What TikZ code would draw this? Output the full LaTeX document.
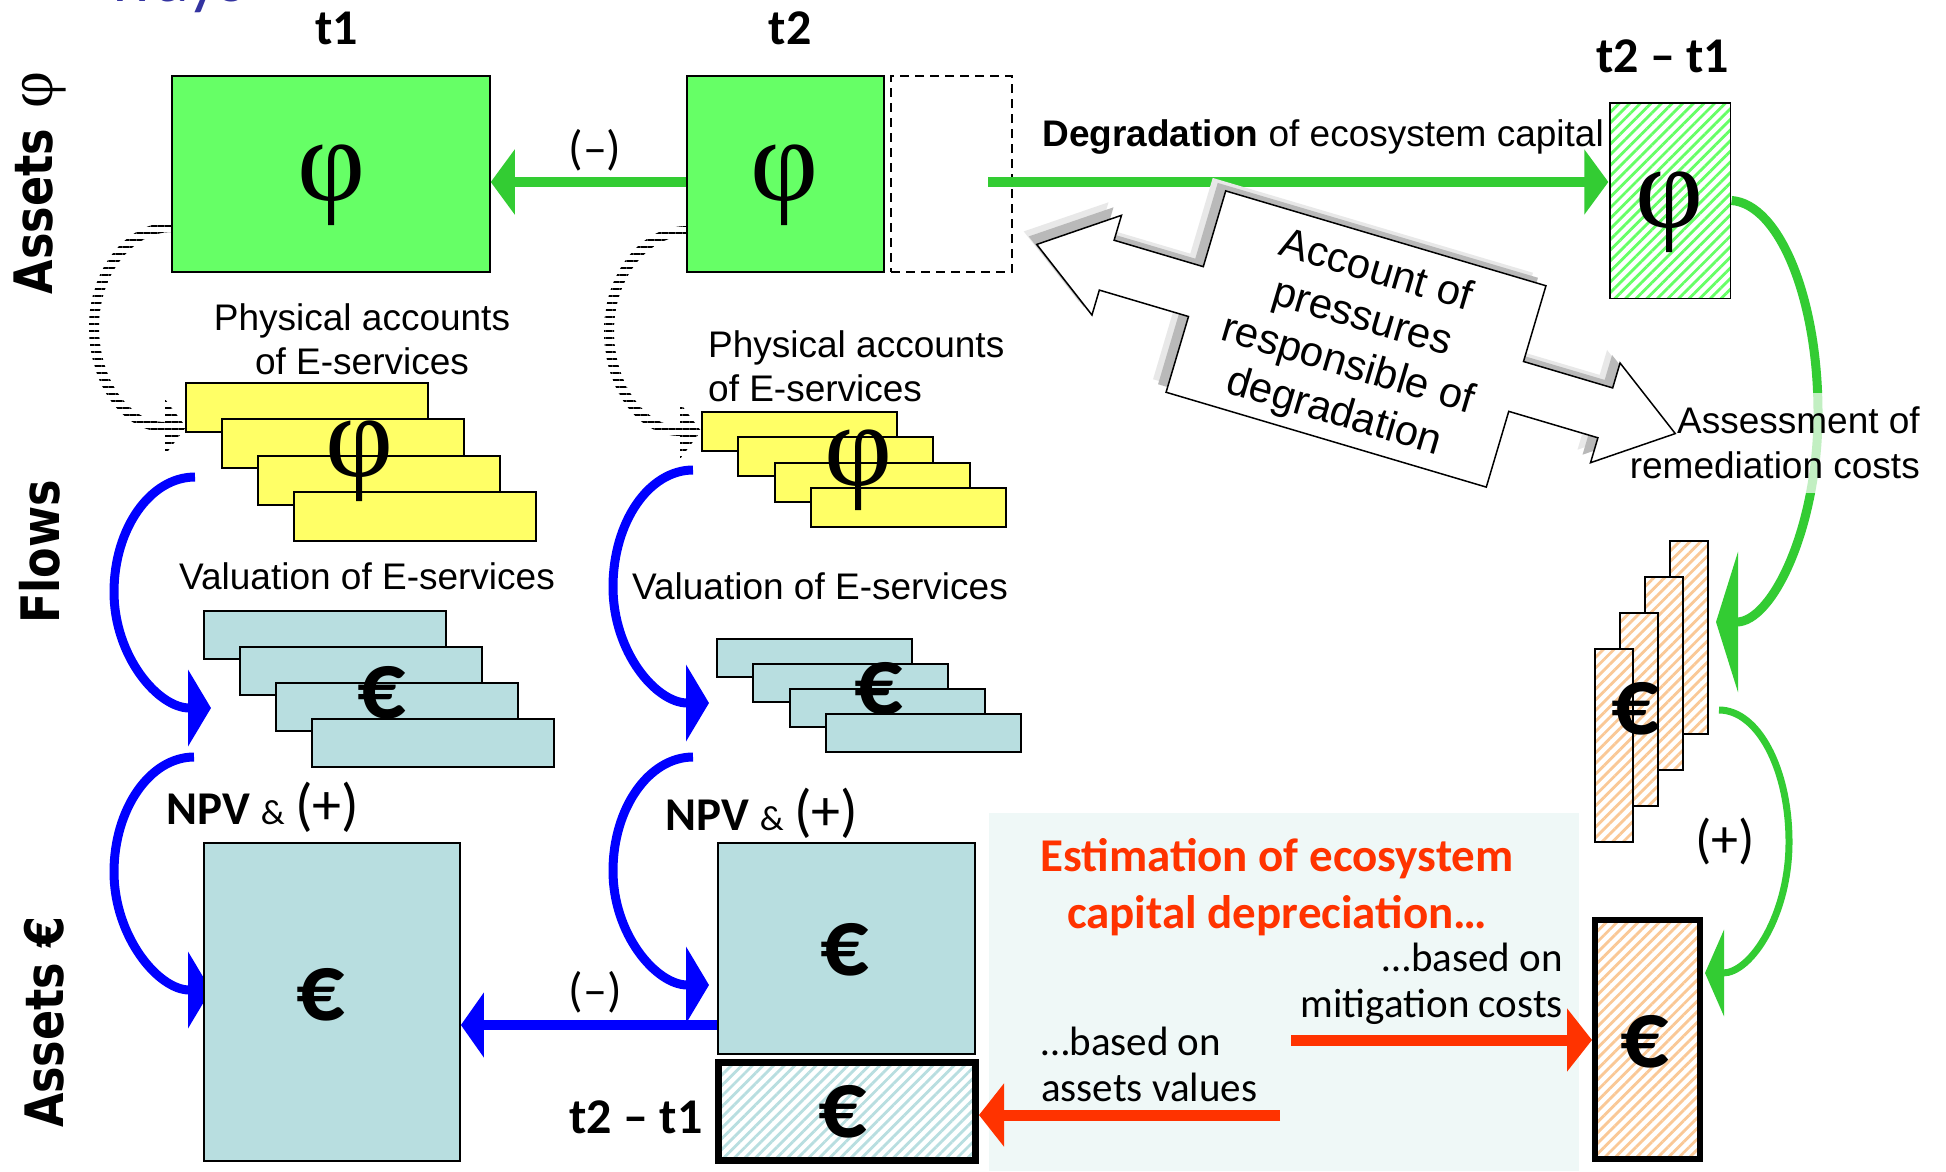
\documentclass[tikz,border=0pt]{standalone}
\usepackage{fontspec}
\usepackage{graphicx}
\setmainfont{Liberation Sans}
\newfontfamily\calfont{Carlito}
\newfontfamily\verfont{DejaVu Sans}
\newfontfamily\serfont{Liberation Serif}
\usetikzlibrary{arrows.meta,patterns.meta}
\definecolor{boxgreen}{RGB}{102,255,102}
\definecolor{arrgreen}{RGB}{51,204,51}
\definecolor{yel}{RGB}{255,255,102}
\definecolor{lblue}{RGB}{184,222,224}
\definecolor{arrblue}{RGB}{0,0,255}
\definecolor{arrred}{RGB}{255,51,0}
\definecolor{orangeh}{RGB}{250,200,150}
\definecolor{panelc}{RGB}{239,248,247}
\definecolor{titleblue}{RGB}{51,51,160}
\newcommand\fz[2]{\fontsize{#1pt}{#2pt}\selectfont}
\begin{document}
\begin{tikzpicture}[x=1pt,y=-1pt,
  txt/.style={inner sep=0pt},
  arialt/.style={txt, font=\fz{37}{44}},
  calt/.style={txt, font=\calfont\fz{48}{56}},
  calbt/.style={txt, font=\calfont\bfseries\fz{50}{56}},
  phit/.style={txt, font=\serfont\fz{118}{118}},
  eurot/.style={txt, font=\calfont\bfseries\fz{96}{96}},
  sidet/.style={txt, rotate=90, font=\verfont\bfseries\fz{53}{60}},
  gbox/.style={draw=black, fill=boxgreen, line width=1.5pt, inner sep=0pt},
  ybox/.style={draw=black, fill=yel, line width=1.8pt, inner sep=0pt},
  bbox/.style={draw=black, fill=lblue, line width=1.8pt, inner sep=0pt},
  hatchg/.style={draw=black, line width=1.5pt, inner sep=0pt, preaction={fill=white},
     pattern={Lines[angle=45,distance=7.5pt,line width=2.8pt]}, pattern color=boxgreen},
  hatcho/.style={draw=black, inner sep=0pt, preaction={fill=white},
     pattern={Lines[angle=45,distance=7.5pt,line width=2.8pt]}, pattern color=orangeh},
  hatchb/.style={draw=black, inner sep=0pt, preaction={fill=white},
     pattern={Lines[angle=45,distance=7.5pt,line width=2.8pt]}, pattern color=lblue},
  combfill/.style={pattern={Lines[angle=0,distance=7pt,line width=2pt]}, pattern color=black},
  garrow/.style={draw=arrgreen, line width=9.5pt, -{Triangle[length=24pt,width=64pt]}},
  barrow/.style={draw=arrblue, line width=10pt, -{Triangle[length=23pt,width=64pt]}},
  rarrow/.style={draw=arrred, line width=11pt, -{Triangle[length=25pt,width=62pt]}},
  bcurve/.style={draw=arrblue, line width=9pt, -{Triangle[length=23pt,width=76pt]}},
  gcurveA/.style={draw=arrgreen, line width=9pt, -{Triangle[length=22pt,width=140pt]}},
  gcurveB/.style={draw=arrgreen, line width=7pt, -{Triangle[length=19pt,width=86pt]}},
]
\useasboundingbox (0,0) rectangle (1946,1171);
\fill[white] (0,0) rectangle (1946,1171);

% panel
\node[fill=panelc, inner sep=0pt, minimum width=590pt, minimum height=358pt] (panel) at (1284,992) {};

% cut title
\node[anchor=base west, inner sep=0pt, text=titleblue, font=\calfont\fz{70}{70}] (ways) at (106,1) {ways};

% column labels
\node[calbt] (lt1) at (336.5,28.6) {t1};
\node[calbt] (lt2) at (790,28.6) {t2};
\node[calbt] (ldt) at (1662.5,56) {t2 – t1};
\node[calbt] (ldtb) at (636,1117.5) {t2 – t1};

% side labels
\node[sidet] (sa) at (40,183) {\scalebox{0.84}[1]{Assets}\hspace{20pt}{\serfont\mdseries\fz{64}{64}φ}};
\node[sidet] (sf) at (40,552) {\scalebox{0.84}[1]{Flows}};
\node[sidet] (se) at (44,1022) {\scalebox{0.84}[1]{Assets €}};

% physical assets boxes
\node[gbox, minimum width=318pt, minimum height=196pt] (phi1) at (331,174) {};
\node[phit] (phi1t) at (332,185) {φ};
\node[gbox, minimum width=197pt, minimum height=196pt] (phi2) at (785.5,174) {};
\node[phit] (phi2t) at (785,185) {φ};
\node[draw=black, line width=1.5pt, dash pattern=on 9pt off 6pt, minimum width=121pt, minimum height=196pt, inner sep=0pt] (dash) at (951.5,174) {};
\node[hatchg, minimum width=120.5pt, minimum height=195.5pt] (gh) at (1670,200.5) {};
\node[phit] (ght) at (1670,212) {φ};

% green straight arrows
\coordinate (gy) at (0,182);
\coordinate (degst) at (988,182);
\draw[garrow] (phi2.west |- gy) -- (phi1.east |- gy);
\node[calt] (minus1) at (595,150) {(–)};
\draw[garrow] (degst) -- (gh.west |- gy);
\node[txt, anchor=east, font=\fz{37}{44}] (deg) at (1604,137.5) {\textbf{Degradation} of ecosystem capital};

% comb arcs
\fill[combfill] (172,222) .. controls (126,222) and (89,269) .. (89,327)
   .. controls (89,385) and (123,432) .. (165,432) -- (165,455) -- (186,427) -- (165,399) -- (165,422)
   .. controls (129,422) and (99,379) .. (99,327) .. controls (99,275) and (132,232) .. (172,232) -- cycle;
\begin{scope}[shift={(515,4)}]
\fill[combfill] (172,222) .. controls (126,222) and (89,269) .. (89,327)
   .. controls (89,385) and (123,432) .. (165,432) -- (165,455) -- (186,427) -- (165,399) -- (165,422)
   .. controls (129,422) and (99,379) .. (99,327) .. controls (99,275) and (132,232) .. (172,232) -- cycle;
\end{scope}

% physical accounts text
\node[arialt, align=center] (pa1) at (362,339) {Physical accounts\\of E-services};
\node[arialt, align=left, anchor=west] (pa2) at (708,366) {Physical accounts\\of E-services};

% yellow stacks
\foreach \i/\n in {0/a,1/b,2/c,3/d}{
  \node[ybox, minimum width=242pt, minimum height=49pt] (ya\n) at ({307+36*\i},{407.5+36.3*\i}) {};
}
\node[phit] (yat) at (360,461) {φ};
\foreach \i/\n in {0/a,1/b,2/c,3/d}{
  \node[ybox, minimum width=195pt, minimum height=39pt] (yb\n) at ({799.5+36.3*\i},{431.5+25.3*\i}) {};
}
\node[phit] (ybt) at (859,470) {φ};

% valuation text
\node[arialt] (va1) at (367,576) {Valuation of E-services};
\node[arialt] (va2) at (820,586) {Valuation of E-services};

% blue stacks
\foreach \i/\n in {0/a,1/b,2/c,3/d}{
  \node[bbox, minimum width=242pt, minimum height=48pt] (ba\n) at ({325+36*\i},{635+36*\i}) {};
}
\node[eurot] (bat) at (382,693) {€};
\foreach \i/\n in {0/a,1/b,2/c,3/d}{
  \node[bbox, minimum width=195pt, minimum height=38pt] (bb\n) at ({814.5+36.3*\i},{658+25*\i}) {};
}
\node[eurot] (bbt) at (879,689) {€};

% blue curved arrows
\coordinate (b1s) at (195,477); \coordinate (b1e) at (211,708);
\coordinate (b2s) at (194,757); \coordinate (b2e) at (211,990);
\coordinate (b3s) at (693,470); \coordinate (b3e) at (709,703);
\coordinate (b4s) at (693,757); \coordinate (b4e) at (709,985);
\draw[bcurve] (b1s) .. controls (150,477) and (114,529) .. (114,592) .. controls (114,656) and (158,708) .. (b1e);
\draw[bcurve] (b2s) .. controls (150,757) and (114,809) .. (114,872) .. controls (114,936) and (158,990) .. (b2e);
\draw[bcurve] (b3s) .. controls (649,470) and (613,522) .. (613,587) .. controls (613,652) and (656,703) .. (b3e);
\draw[bcurve] (b4s) .. controls (649,757) and (613,808) .. (613,871) .. controls (613,934) and (656,985) .. (b4e);

% NPV labels
\node[txt, font=\calfont\fz{47}{50}] (npv1) at (263,807) {\textbf{NPV} {\fz{35}{35}\&} {\fz{58}{58}(+)}};
\node[txt, font=\calfont\fz{47}{50}] (npv2) at (762,813.5) {\textbf{NPV} {\fz{35}{35}\&} {\fz{58}{58}(+)}};

% monetary assets
\node[bbox, minimum width=256pt, minimum height=318pt] (ae1) at (332,1002) {};
\node[eurot] (ae1t) at (321,995) {€};
\node[bbox, minimum width=257pt, minimum height=211pt] (ae2) at (846.5,948.5) {};
\node[eurot] (ae2t) at (845,950) {€};
\node[hatchb, line width=7pt, minimum width=257pt, minimum height=98pt] (hb) at (847,1111.5) {};
\node[eurot] (hbt) at (843,1112) {€};
\coordinate (bly) at (0,1025);
\draw[barrow] (ae2.west |- bly) -- (ae1.east |- bly);
\node[calt] (minus2) at (595.5,992) {(–)};

% right side: orange stack and box
\foreach \k/\n in {0/a,1/b,2/c,3/d}{
  \node[hatcho, line width=1.5pt, minimum width=38pt, minimum height=193pt] (or\n) at ({1689-25*\k},{637.5+36*\k}) {};
}
\node[eurot] (ort) at (1636,709) {€};
\node[hatcho, line width=6pt, minimum width=105pt, minimum height=239pt] (obox) at (1647.5,1039.5) {};
\node[eurot] (obt) at (1645,1042) {€};

% green curved arrows
\coordinate (g1e) at (1716,622);
\draw[gcurveA] (gh.east) .. controls (1779,204) and (1818,298) .. (1818,413) .. controls (1818,528) and (1772,622) .. (g1e);
\coordinate (g2s) at (1719,710); \coordinate (g2e) at (1705,973);
\draw[gcurveB] (g2s) .. controls (1758,710) and (1789,769) .. (1789,842) .. controls (1789,915) and (1751,973) .. (g2e);
\node[calt, font=\calfont\fz{54}{56}] (plus) at (1725,841) {(+)};

% assessment text (semi transparent box)
\node[txt, inner ysep=14pt, inner xsep=2pt, fill=white, fill opacity=0.7, text opacity=1, align=right, anchor=east, font=\fz{37}{45}] (ass) at (1922,443) {Assessment of\\remediation costs};

% double arrow with shadow
\begin{scope}[shift={(1343,326)}, rotate=-16.5]
\fill[gray!18] (-333,0) -- (-260,-52) -- (-260,-26) -- (-167,-26) -- (-167,-105) -- (167,-105) -- (167,-26) -- (260,-26) -- (260,-52) -- (333,0) -- (260,52) -- (260,26) -- (167,26) -- (167,105) -- (-167,105) -- (-167,26) -- (-260,26) -- (-260,52) -- cycle;
\end{scope}
\begin{scope}[shift={(1348,331)}, rotate=-16.5]
\fill[gray!55] (-333,0) -- (-260,-52) -- (-260,-26) -- (-167,-26) -- (-167,-105) -- (167,-105) -- (167,-26) -- (260,-26) -- (260,-52) -- (333,0) -- (260,52) -- (260,26) -- (167,26) -- (167,105) -- (-167,105) -- (-167,26) -- (-260,26) -- (-260,52) -- cycle;
\end{scope}
\begin{scope}[shift={(1356,339)}, rotate=-16.5]
\filldraw[fill=white, draw=black, line width=1.5pt] (-333,0) -- (-260,-52) -- (-260,-26) -- (-167,-26) -- (-167,-105) -- (167,-105) -- (167,-26) -- (260,-26) -- (260,-52) -- (333,0) -- (260,52) -- (260,26) -- (167,26) -- (167,105) -- (-167,105) -- (-167,26) -- (-260,26) -- (-260,52) -- cycle;
\node[txt, rotate=-16.5, align=center, font=\fz{42}{49}] (acct) at (0,4) {Account of\\pressures\\responsible of\\degradation};
\end{scope}

% estimation texts and red arrows
\node[txt, align=center, text=arrred, font=\calfont\bfseries\fz{47}{57}] (est) at (1277,887) {Estimation of ecosystem\\capital depreciation…};
\node[txt, align=right, anchor=east, font=\calfont\fz{41}{46}] (mit) at (1563,984) {…based on\\mitigation costs};
\node[txt, align=left, anchor=west, font=\calfont\fz{41}{46}] (asv) at (1041,1064) {…based on\\assets values};
\coordinate (r1s) at (1291,1040);
\coordinate (r2s) at (1280,1115);
\draw[rarrow] (r1s) -- (obox.west |- r1s);
\draw[rarrow] (r2s) -- (hb.east |- r2s);
\end{tikzpicture}
\end{document}
